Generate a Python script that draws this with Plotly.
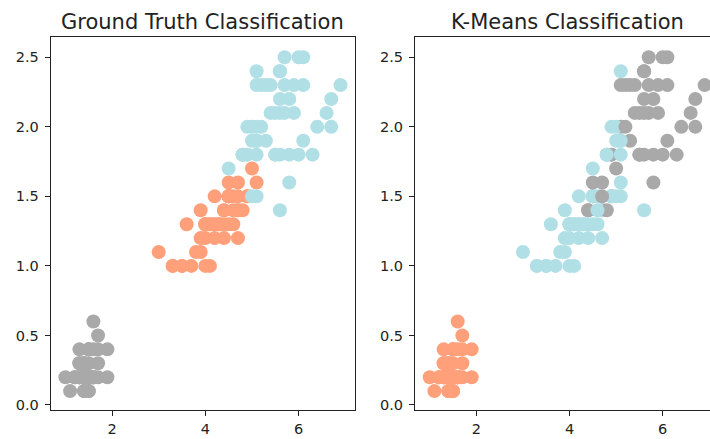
import plotly.graph_objects as go

# Iris petal measurements (cm)
petal_length = [1.4,1.4,1.3,1.5,1.4,1.7,1.4,1.5,1.4,1.5,1.5,1.6,1.4,1.1,1.2,1.5,1.3,1.4,1.7,1.5,1.7,1.5,1.0,1.7,1.9,1.6,1.6,1.5,1.4,1.6,1.6,1.5,1.5,1.4,1.5,1.2,1.3,1.4,1.3,1.5,1.3,1.3,1.3,1.6,1.9,1.4,1.6,1.4,1.5,1.4,
4.7,4.5,4.9,4.0,4.6,4.5,4.7,3.3,4.6,3.9,3.5,4.2,4.0,4.7,3.6,4.4,4.5,4.1,4.5,3.9,4.8,4.0,4.9,4.7,4.3,4.4,4.8,5.0,4.5,3.5,3.8,3.7,3.9,5.1,4.5,4.5,4.7,4.4,4.1,4.0,4.4,4.6,4.0,3.3,4.2,4.2,4.2,4.3,3.0,4.1,
6.0,5.1,5.9,5.6,5.8,6.6,4.5,6.3,5.8,6.1,5.1,5.3,5.5,5.0,5.1,5.3,5.5,6.7,6.9,5.0,5.7,4.9,6.7,4.9,5.7,6.0,4.8,4.9,5.6,5.8,6.1,6.4,5.6,5.1,5.6,6.1,5.6,5.5,4.8,5.4,5.6,5.1,5.1,5.9,5.7,5.2,5.0,5.2,5.4,5.1]
petal_width = [0.2,0.2,0.2,0.2,0.2,0.4,0.3,0.2,0.2,0.1,0.2,0.2,0.1,0.1,0.2,0.4,0.4,0.3,0.3,0.3,0.2,0.4,0.2,0.5,0.2,0.2,0.4,0.2,0.2,0.2,0.2,0.4,0.1,0.2,0.2,0.2,0.2,0.1,0.2,0.2,0.3,0.3,0.2,0.6,0.4,0.3,0.2,0.2,0.2,0.2,
1.4,1.5,1.5,1.3,1.5,1.3,1.6,1.0,1.3,1.4,1.0,1.5,1.0,1.4,1.3,1.4,1.5,1.0,1.5,1.1,1.8,1.3,1.5,1.2,1.3,1.4,1.4,1.7,1.5,1.0,1.1,1.0,1.2,1.6,1.5,1.6,1.5,1.3,1.3,1.3,1.2,1.4,1.2,1.0,1.3,1.2,1.3,1.3,1.1,1.3,
2.5,1.9,2.1,1.8,2.2,2.1,1.7,1.8,1.8,2.5,2.0,1.9,2.1,2.0,2.4,2.3,1.8,2.2,2.3,1.5,2.3,2.0,2.0,1.8,2.1,1.8,1.8,1.8,2.1,1.6,1.9,2.0,2.2,1.5,1.4,2.3,2.4,1.8,1.8,2.1,2.4,2.3,1.9,2.3,2.5,2.3,1.9,2.0,2.3,1.8]

# Ground-truth class per point (0 setosa, 1 versicolor, 2 virginica)
truth = [0,0,0,0,0,0,0,0,0,0,0,0,0,0,0,0,0,0,0,0,0,0,0,0,0,0,0,0,0,0,0,0,0,0,0,0,0,0,0,0,0,0,0,0,0,0,0,0,0,0,
1,1,1,1,1,1,1,1,1,1,1,1,1,1,1,1,1,1,1,1,1,1,1,1,1,1,1,1,1,1,1,1,1,1,1,1,1,1,1,1,1,1,1,1,1,1,1,1,1,1,
2,2,2,2,2,2,2,2,2,2,2,2,2,2,2,2,2,2,2,2,2,2,2,2,2,2,2,2,2,2,2,2,2,2,2,2,2,2,2,2,2,2,2,2,2,2,2,2,2,2]

# K-Means cluster per point as shown in the right panel
kmeans = [0,0,0,0,0,0,0,0,0,0,0,0,0,0,0,0,0,0,0,0,0,0,0,0,0,0,0,0,0,0,0,0,0,0,0,0,0,0,0,0,0,0,0,0,0,0,0,0,0,0,
2,2,2,1,1,1,2,1,1,1, 1,1,1,1,1,2,1,1,1,1, 2,1,1,1,1,2,2,2,1,1, 1,1,1,1,1,2,2,1,1,1, 1,1,1,1,1,1,1,1,1,1,
2,1,2,2,2,2,1,2,2,2, 2,2,2,1,1,2,2,2,2,1, 2,1,2,1,2,2,1,2,2,2, 2,2,2,1,1,2,2,2,1,2, 2,2,1,2,2,2,1,2,2,1]

truth_colors = ['darkgray', 'lightsalmon', 'powderblue']
kmeans_colors = ['lightsalmon', 'powderblue', 'darkgray']

titles = ['Ground Truth Classification', 'K-Means Classification']
x_ticks = [2, 4, 6]
y_ticks = [0.0, 0.5, 1.0, 1.5, 2.0, 2.5]

fig = go.Figure()
fig.add_trace(go.Scatter(x=petal_length, y=petal_width, mode='markers',
    marker=dict(size=14, color=[truth_colors[t] for t in truth], line=dict(width=0)),
    xaxis='x', yaxis='y', showlegend=False, hoverinfo='x+y'))
fig.add_trace(go.Scatter(x=petal_length, y=petal_width, mode='markers',
    marker=dict(size=14, color=[kmeans_colors[t] for t in kmeans], line=dict(width=0)),
    xaxis='x2', yaxis='y2', showlegend=False, hoverinfo='x+y'))

W, H = 710, 439
ax = dict(showline=True, linecolor='#222', linewidth=1, ticks='outside', ticklen=5, tickwidth=1,
          tickcolor='#222', showgrid=False, zeroline=False, automargin=False,
          tickfont=dict(size=14.5, color='#222'))
xa = dict(ax, tickvals=x_ticks, ticklabelstandoff=1)
ya = dict(ax, tickvals=y_ticks, ticktext=['%.1f' % v for v in y_ticks], ticklabelstandoff=3,
          domain=[29 / H, 402.3 / H], range=[-0.036, 2.648])

fig.update_layout(
    width=W, height=H, margin=dict(l=0, r=0, t=0, b=0, autoexpand=False),
    paper_bgcolor='white', plot_bgcolor='white',
    font=dict(family='DejaVu Sans', color='#222'),
    xaxis=dict(xa, domain=[50.7 / W, 355 / W], range=[0.684, 7.21], mirror=True, anchor='y'),
    yaxis=dict(ya, mirror=True, anchor='x'),
    xaxis2=dict(xa, domain=[415 / W, 1.0], range=[0.684, 7.015], mirror=True, anchor='y2'),
    yaxis2=dict(ya, anchor='x2'),
)
for cx, t in [((50.7 + 355) / 2 / W, titles[0]), ((415 + 719) / 2 / W, titles[1])]:
    fig.add_annotation(x=cx, y=1 - 36 / H, xref='paper', yref='paper', text=t, showarrow=False,
                       xanchor='center', yanchor='bottom', font=dict(size=21, color='#222'))
fig.write_html('out.html', config={'displayModeBar': False},
               post_script="document.body.style.margin='0';document.body.style.overflow='hidden';")
